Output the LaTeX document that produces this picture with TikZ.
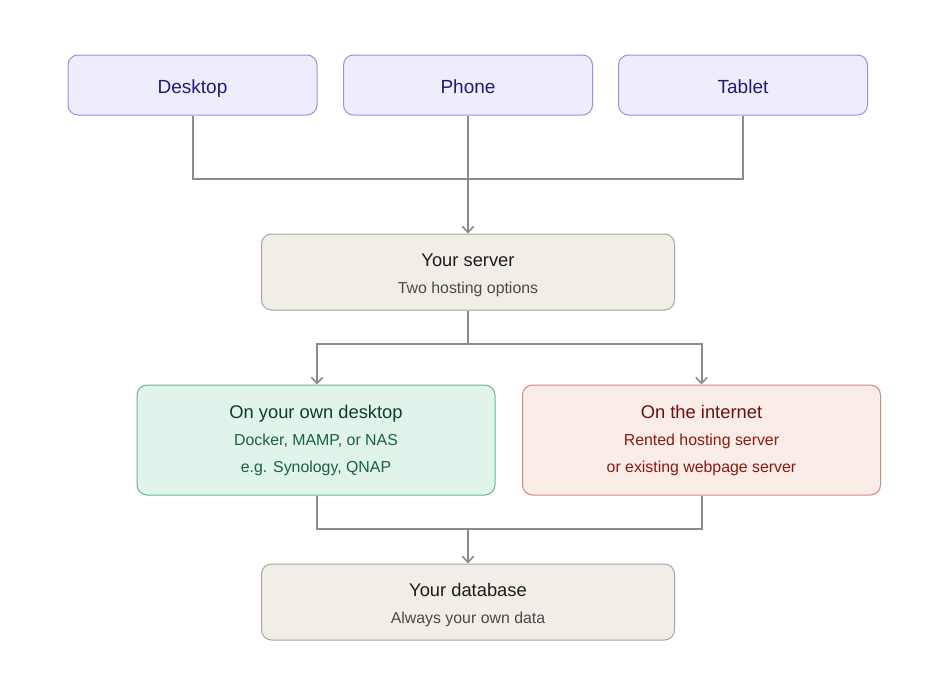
\documentclass[tikz,border=0pt]{standalone}
\usepackage{fontspec}
\setmainfont{Liberation Sans}
\usetikzlibrary{arrows.meta}

\definecolor{devfill}{HTML}{EEEDFC}
\definecolor{devdraw}{HTML}{9A8FE6}
\definecolor{devtext}{HTML}{1F1B7A}
\definecolor{srvfill}{HTML}{F1EEE7}
\definecolor{srvdraw}{HTML}{A8A59C}
\definecolor{srvtitle}{HTML}{1C1C1C}
\definecolor{srvsub}{HTML}{4A4A48}
\definecolor{ownfill}{HTML}{E1F4EB}
\definecolor{owndraw}{HTML}{6DB38E}
\definecolor{owntitle}{HTML}{0E3D28}
\definecolor{ownsub}{HTML}{17633E}
\definecolor{netfill}{HTML}{FAECE6}
\definecolor{netdraw}{HTML}{CB8A7E}
\definecolor{nettitle}{HTML}{6B0F0F}
\definecolor{netsub}{HTML}{8B1A12}
\definecolor{linkgray}{HTML}{8C8C86}

\newcommand{\boxtitle}[2][0pt]{{\fontsize{13.75}{20.25}\selectfont\rule{0pt}{#1}#2}}

\begin{document}
\begin{tikzpicture}[x=0.75pt,y=-0.75pt,
            box/.style={rounded corners=7.5pt,line width=0.75pt,align=center,
                font=\fontsize{11.9}{20.25}\selectfont},
            link/.style={draw=linkgray,line width=1.5pt},
            arr/.style={link,-{Straight Barb[length=4.5pt,width=8.5pt,line width=1.2pt]}}]
            \tikzstyle{device}=[box,fill=devfill,draw=devdraw,text=devtext,
                minimum width=186.75pt,minimum height=45pt,text height=12pt,text depth=0pt,
                font=\fontsize{14.25}{16}\selectfont]
            \tikzstyle{layer}=[box,fill=srvfill,draw=srvdraw,text=srvsub,
                minimum width=309.75pt,minimum height=57pt]
            \tikzstyle{host}=[box,minimum width=268.5pt,minimum height=82.5pt]
            \useasboundingbox (0,0) rectangle (936,696);
            % devices
            \node[device] (desktop) at (192.5,85) {Desktop};
            \node[device] (phone) at (468,85) {Phone};
            \node[device] (tablet) at (743,85) {Tablet};
            % server
            \node[layer] (server) at (468,272)
                {\boxtitle[14.5pt]{\color{srvtitle}Your server}\\Two hosting options};
            % hosting options
            \node[host,fill=ownfill,draw=owndraw,text=ownsub] (own) at (316,440)
                {\boxtitle{\color{owntitle}On your own desktop}\\Docker, MAMP, or NAS\\e.g. Synology, QNAP};
            \node[host,fill=netfill,draw=netdraw,text=netsub] (net) at (701.5,440)
                {\boxtitle{\color{nettitle}On the internet}\\Rented hosting server\\or existing webpage server};
            % database
            \node[layer] (db) at (468,602)
                {\boxtitle[14.5pt]{\color{srvtitle}Your database}\\Always your own data};
            \coordinate (merge) at (468,179);
            \coordinate (split) at (468,344);
            \coordinate (gather) at (468,529);
            % connectors
            \draw[link] (desktop.south) |- (merge);
            \draw[link] (tablet.south) |- (merge);
            \draw[arr] (phone.south) -- (server.north);
            \draw[link] (server.south) -- (split);
            \draw[arr] (split) -| ([xshift=0.75pt]own.north);
            \draw[arr] (split) -| (net.north);
            \draw[link] ([xshift=0.75pt]own.south) |- (gather);
            \draw[link] (net.south) |- (gather);
            \draw[arr] (gather) -- (db.north);
\end{tikzpicture}
\end{document}
